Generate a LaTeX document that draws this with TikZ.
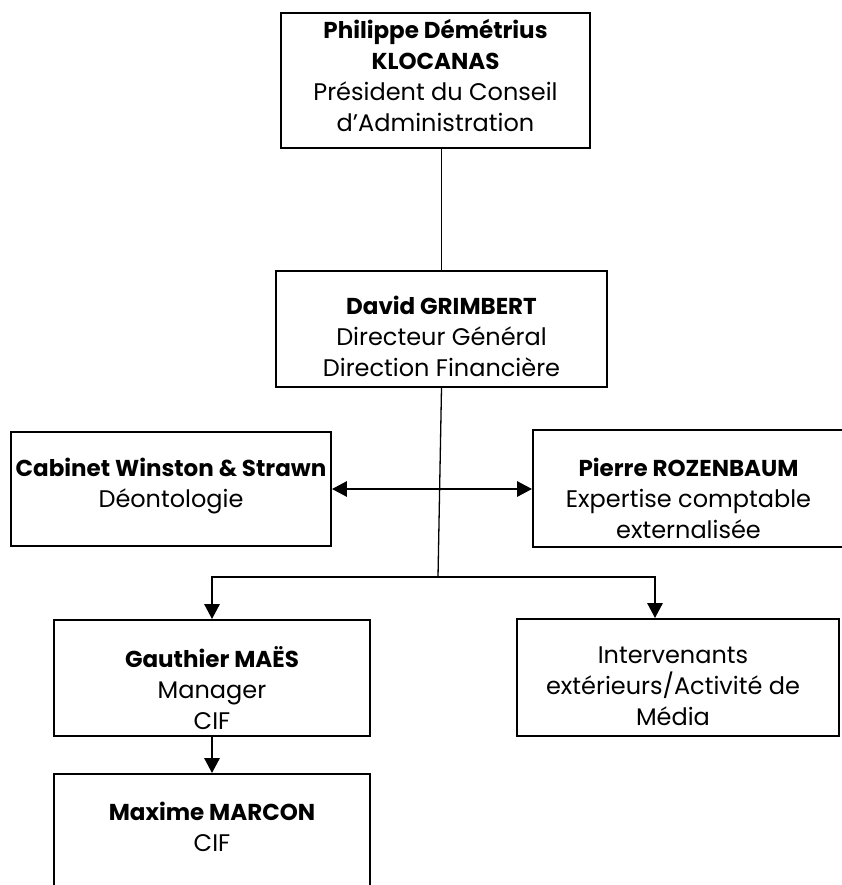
\documentclass[tikz,border=0pt]{standalone}
\usepackage{fontspec}
\setmainfont{Poppins}
\usetikzlibrary{positioning,arrows.meta}

\newcommand{\nm}[1]{{\fontsize{23}{31}\selectfont\bfseries #1}}

\tikzset{
    box/.style={draw, line width=1.8pt, rectangle, inner sep=0pt},
    lbl/.style={align=center, inner sep=0pt, font=\fontsize{24}{31}\selectfont},
    link/.style={line width=1.3pt},
    tip/.style={-{Triangle[length=15pt,width=15pt]}},
    arr/.style={line width=2.8pt, tip}
}

\begin{document}
\begin{tikzpicture}
        \useasboundingbox (0,0) rectangle (842pt,-885pt);
        \node[box, minimum width=309pt, minimum height=135pt] (pdg) at (435.5pt,-80.5pt) {};
        \node[box, minimum width=331pt, minimum height=116pt] (dg) at (441.5pt,-329pt) {};
        \node[box, minimum width=320pt, minimum height=114pt] (cab) at (171pt,-489pt) {};
        \node[box, minimum width=317pt, minimum height=117pt] (roz) at (691.5pt,-488.5pt) {};
        \node[box, minimum width=316pt, minimum height=116pt] (gm) at (212pt,-678pt) {};
        \node[box, minimum width=322pt, minimum height=117pt] (ext) at (678pt,-677.5pt) {};
        \node[box, minimum width=316pt, minimum height=126pt] (mm) at (212pt,-837pt) {};

        \node[lbl, below=7pt of pdg.north] (pdgtxt)
            {\nm{Philippe Démétrius}\\\nm{KLOCANAS}\\Président du Conseil\\d'Administration};
        \node[lbl, below=26pt of dg.north] (dgtxt)
            {\nm{David GRIMBERT}\\Directeur Général\\Direction Financière};
        \node[lbl, below=27pt of cab.north] (cabtxt)
            {\nm{Cabinet Winston \& Strawn}\\Déontologie};
        \node[lbl, below=29pt of roz.north, xshift=-3pt] (roztxt)
            {\nm{Pierre ROZENBAUM}\\Expertise comptable\\externalisée};
        \node[lbl, below=27pt of gm.north] (gmtxt)
            {\nm{Gauthier MAËS}\\Manager\\CIF};
        \node[lbl, below=28pt of ext.north, xshift=-5pt] (exttxt)
            {Intervenants\\extérieurs/Activité de\\Média};
        \node[lbl, below=29pt of mm.north] (mmtxt)
            {\nm{Maxime MARCON}\\CIF};

        \coordinate (hub) at (438pt,-577pt);
        \coordinate (extin) at ([xshift=-23pt]ext.north);

        \draw[link] (dg.north) -- (dg.north |- pdg.south);
        \draw[link] (dg.south) -- (hub);
        \draw[arr] (hub) -| (gm.north);
        \draw[arr] (hub) -| (extin);
        \draw[arr, {Triangle[length=15pt,width=15pt]}-{Triangle[length=15pt,width=15pt]}] (cab.east) -- (cab.east -| roz.west);
        \draw[arr] (gm.south) -- (mm.north);
    \end{tikzpicture}
\end{document}
